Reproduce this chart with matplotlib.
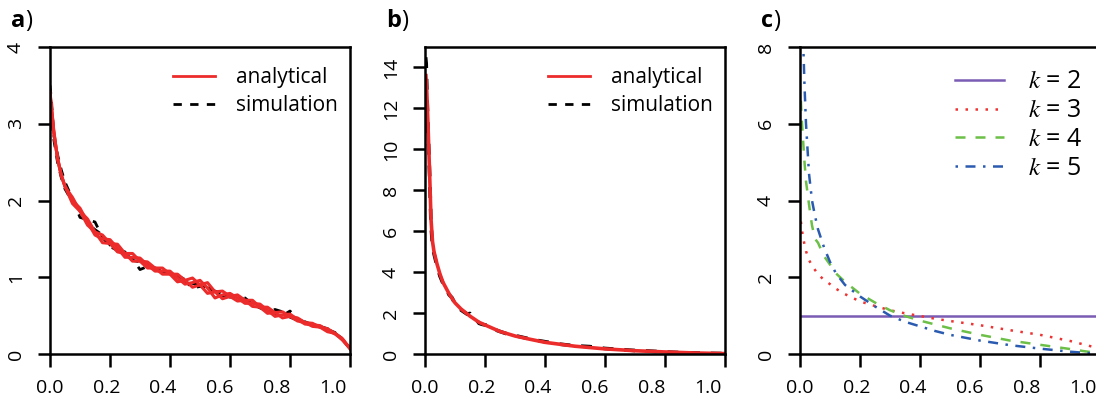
import numpy as np
import matplotlib
matplotlib.use("Agg")
from matplotlib import pyplot as plt

plt.rcParams['font.family'] = ['Open Sans', 'DejaVu Sans']
plt.rcParams['mathtext.fontset'] = 'stix'

# panel a - analytical (red) and simulated (black) densities
xa = [0.0, 0.005, 0.0125, 0.025, 0.0375, 0.05, 0.075, 0.1, 0.125, 0.15, 0.175, 0.2,
      0.225, 0.25, 0.275, 0.3, 0.325, 0.35, 0.375, 0.4, 0.425, 0.45, 0.475, 0.5,
      0.525, 0.55, 0.575, 0.6, 0.625, 0.65, 0.675, 0.7, 0.725, 0.75, 0.775, 0.8,
      0.825, 0.85, 0.875, 0.9, 0.925, 0.95, 0.975, 1.0]
a_red1 = [3.38, 3.18, 2.90, 2.56, 2.34, 2.18, 2.04, 1.86, 1.68, 1.59, 1.55, 1.44,
          1.33, 1.31, 1.31, 1.21, 1.12, 1.12, 1.12, 1.04, 0.94, 0.96, 0.99, 0.90,
          0.79, 0.81, 0.82, 0.75, 0.69, 0.70, 0.70, 0.61, 0.53, 0.54, 0.55, 0.49,
          0.43, 0.41, 0.40, 0.35, 0.29, 0.27, 0.20, 0.07]
a_red2 = [3.42, 3.22, 2.92, 2.54, 2.32, 2.18, 1.96, 1.86, 1.76, 1.59, 1.45, 1.44,
          1.43, 1.31, 1.21, 1.21, 1.20, 1.12, 1.04, 1.04, 1.04, 0.96, 0.87, 0.90,
          0.93, 0.81, 0.72, 0.75, 0.77, 0.70, 0.62, 0.61, 0.61, 0.54, 0.47, 0.49,
          0.47, 0.41, 0.36, 0.35, 0.33, 0.27, 0.18, 0.07]
a_red3 = [3.40, 3.20, 2.88, 2.55, 2.33, 2.19, 2.00, 1.90, 1.72, 1.55, 1.50, 1.49,
          1.38, 1.26, 1.26, 1.25, 1.16, 1.08, 1.08, 1.08, 0.99, 0.91, 0.93, 0.96,
          0.86, 0.73, 0.77, 0.79, 0.73, 0.66, 0.66, 0.65, 0.57, 0.49, 0.51, 0.52,
          0.45, 0.39, 0.38, 0.37, 0.31, 0.26, 0.19, 0.07]
a_sim1 = [3.50, 3.30, 2.85, 2.60, 2.40, 2.24, 2.02, 1.78, 1.75, 1.72, 1.52, 1.40,
          1.35, 1.30, 1.24, 1.10, 1.14, 1.12, 1.10, 1.05, 1.00, 0.95, 0.86, 0.88,
          0.86, 0.82, 0.78, 0.74, 0.76, 0.73, 0.65, 0.60, 0.56, 0.58, 0.55, 0.48,
          0.44, 0.42, 0.38, 0.36, 0.33, 0.27, 0.20, 0.08]
a_sim2 = [3.45, 3.10, 2.80, 2.50, 2.30, 2.15, 1.98, 1.88, 1.70, 1.62, 1.55, 1.42,
          1.36, 1.33, 1.22, 1.20, 1.18, 1.10, 1.07, 1.06, 1.02, 0.97, 0.92, 0.90,
          0.87, 0.80, 0.76, 0.77, 0.74, 0.71, 0.68, 0.62, 0.58, 0.53, 0.50, 0.56,
          0.46, 0.41, 0.38, 0.35, 0.32, 0.28, 0.19, 0.07]

# panel b
xb = [0.003, 0.006, 0.01, 0.015, 0.02, 0.025, 0.03, 0.04, 0.05, 0.06, 0.08, 0.1,
      0.12, 0.15, 0.18, 0.2, 0.25, 0.3, 0.35, 0.4, 0.5, 0.6, 0.7, 0.8, 0.9, 1.0]
b_red = [13.6, 12.8, 11.2, 9.0, 6.6, 5.5, 5.0, 4.4, 3.9, 3.5, 2.95, 2.5,
         2.2, 1.85, 1.55, 1.42, 1.10, 0.88, 0.72, 0.57, 0.38, 0.25, 0.16, 0.10, 0.05, 0.02]
xb_sim = [0.002, 0.004, 0.006, 0.008, 0.01, 0.013, 0.016, 0.02, 0.025, 0.03, 0.035,
          0.04, 0.05, 0.06, 0.07, 0.08, 0.09, 0.1, 0.11, 0.12, 0.13, 0.14, 0.15, 0.16,
          0.17, 0.18, 0.19, 0.2, 0.22, 0.24, 0.26, 0.28, 0.3, 0.33, 0.36, 0.4, 0.45,
          0.5, 0.55, 0.6, 0.65, 0.7, 0.75, 0.8, 0.85, 0.9, 0.95, 1.0]
b_sim = [14.5, 14.2, 13.0, 12.0, 11.0, 9.8, 8.5, 6.3, 5.3, 4.9, 4.6, 4.3, 3.8, 3.45,
         3.2, 2.9, 2.75, 2.45, 2.35, 2.15, 2.05, 1.95, 1.98, 1.75, 1.70, 1.50, 1.45,
         1.42, 1.35, 1.15, 1.05, 0.95, 0.90, 0.80, 0.70, 0.60, 0.48, 0.40, 0.36, 0.27,
         0.22, 0.17, 0.14, 0.10, 0.07, 0.05, 0.03, 0.02]

# panel c
xc = [0.003, 0.005, 0.01, 0.015, 0.02, 0.03, 0.04, 0.05, 0.06, 0.08, 0.1, 0.12, 0.15,
      0.2, 0.25, 0.3, 0.35, 0.4, 0.45, 0.5, 0.6, 0.7, 0.8, 0.9, 0.95, 1.0]
k2 = [1.0, 1.0, 1.0, 1.0, 1.0, 1.0, 1.0, 1.0, 1.0, 1.0, 1.0, 1.0, 1.0,
      1.0, 1.0, 1.0, 1.0, 1.0, 1.0, 1.0, 1.0, 1.0, 1.0, 1.0, 1.0, 1.0]
k3 = [3.45, 3.3, 3.05, 2.85, 2.68, 2.45, 2.3, 2.19, 2.08, 1.93, 1.82, 1.70, 1.56,
      1.37, 1.25, 1.14, 1.06, 0.99, 0.92, 0.86, 0.75, 0.62, 0.50, 0.34, 0.24, 0.14]
k4 = [6.6, 6.2, 5.6, 5.0, 4.5, 3.9, 3.35, 3.0, 2.9, 2.55, 2.33, 2.1, 1.88,
      1.57, 1.34, 1.14, 0.99, 0.87, 0.77, 0.67, 0.50, 0.35, 0.24, 0.13, 0.07, 0.02]
k5 = [11.0, 9.5, 8.3, 7.0, 6.0, 4.7, 4.0, 3.6, 3.25, 2.78, 2.4, 2.1, 1.80,
      1.50, 1.24, 1.0, 0.84, 0.72, 0.60, 0.50, 0.35, 0.23, 0.14, 0.06, 0.03, 0.01]

xticks = [0.0, 0.2, 0.4, 0.6, 0.8, 1.0]
xticklabels = ['0.0', '0.2', '0.4', '0.6', '0.8', '1.0']
# in the original figure the x labels sit slightly compressed toward the left
LABEL_SCALE = 0.943

RED = '#ec2b2b'

fig = plt.figure(figsize=(10.96, 3.98), dpi=100)
W, H = 1096, 398
axes = []
for left in (50, 425, 800):
    ax = fig.add_axes([left / W, 44 / H, 300 / W, 307 / H])
    axes.append(ax)


def style(ax, ymax, ystep, label):
    ax.set_xlim(0, 1)
    ax.set_ylim(0, ymax)
    ax.xaxis.remove_overlapping_locs = False
    ax.set_xticks(xticks)
    ax.set_xticklabels([])
    ax.set_xticks([t * LABEL_SCALE for t in xticks], minor=True)
    ax.set_xticklabels(xticklabels, minor=True)
    yt = np.arange(0, ymax + 0.01, ystep)
    ax.set_yticks(yt)
    ax.set_yticklabels(['%d' % v for v in yt], rotation=90, va='center')
    for s in ax.spines.values():
        s.set_linewidth(1.8)
    ax.tick_params(axis='both', direction='out', length=9, width=1.8,
                   labelsize=14, pad=9)
    ax.tick_params(axis='x', which='minor', length=0, labelsize=14, pad=18)
    t = ax.text(-0.13, 1.045, label, transform=ax.transAxes, fontsize=17,
                fontweight='bold', va='bottom', ha='left')
    ax.annotate(')', xy=(1, 0), xycoords=t, fontsize=17, va='bottom', ha='left')


# a)
ax = axes[0]
ax.plot(xa, a_sim1, color='black', lw=2, ls=(0, (3, 3)), label='simulation')
ax.plot(xa, a_sim2, color='black', lw=2, ls=(0, (3, 3)))
ax.plot(xa, a_red1, color=RED, lw=2.2, label='analytical')
ax.plot(xa, a_red2, color=RED, lw=2.2)
ax.plot(xa, a_red3, color=RED, lw=2.2)
style(ax, 4, 1, 'a')

# b)
ax = axes[1]
ax.plot(xb_sim, b_sim, color='black', lw=2.6, label='simulation')
ax.plot(xb, b_red, color=RED, lw=2.6, label='analytical')
style(ax, 15, 2, 'b')

for ax in axes[:2]:
    h, l = ax.get_legend_handles_labels()
    h[0].set_linestyle((0, (3, 3)))
    leg = ax.legend([h[1], h[0]], [l[1], l[0]], loc='upper right',
                    bbox_to_anchor=(1.0, 0.975), frameon=False,
                    fontsize=15, handlelength=2.0, handletextpad=1.0,
                    labelspacing=0.35, borderaxespad=0.2)
    for line in leg.get_lines():
        line.set_linewidth(2)

# c)
ax = axes[2]
ax.plot(xc, k2, color='#7a5cb4', lw=1.8, label=r'$k$ = 2')
ax.plot(xc, k3, color='#ee3333', lw=1.8, ls=(0, (1, 3)), label=r'$k$ = 3')
ax.plot(xc, k4, color='#6cbf47', lw=1.8, ls=(0, (4, 4)), label=r'$k$ = 4')
ax.plot(xc, k5, color='#2a5bb0', lw=1.8, ls=(0, (1, 3, 4, 3)), label=r'$k$ = 5')
style(ax, 8, 2, 'c')
ax.legend(loc='upper right', bbox_to_anchor=(1.015, 1.0), frameon=False,
          fontsize=18, handlelength=1.95, handletextpad=0.95, labelspacing=0.15)

fig.savefig('out.png', dpi=100)
